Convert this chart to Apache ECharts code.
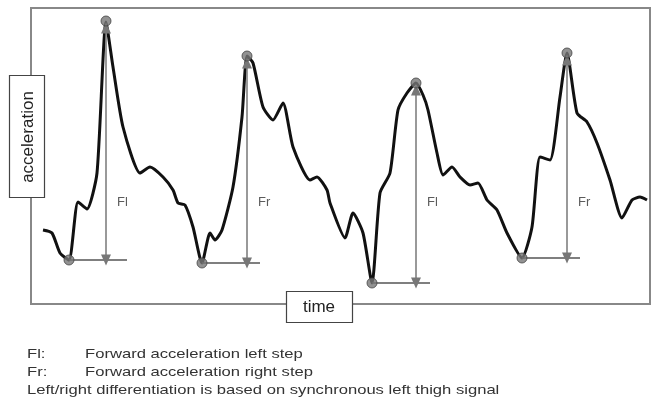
<!DOCTYPE html>
<html>
<head>
<meta charset="utf-8">
<script src="https://cdn.jsdelivr.net/npm/echarts@6/dist/echarts.min.js"></script>
<style>
html,body{margin:0;padding:0;background:#fff;}
#chart{width:652px;height:403px;}
</style>
</head>
<body>
<div id="chart"></div>
<script>
// acceleration signal (arbitrary units) over time (arbitrary units)
const time = [12,21,29,38,47,56,66,75,82,92,109,119,132,142,147,154,162,171,179,184,191,202,211,216,222,232,242,252,262,279,286,296,299,314,322,332,341,349,359,367,376,385,392,397,406,412,421,429,439,447,456,466,476,491,501,509,519,529,536,546,556,566,579,591,601,609,616];
const acceleration = [74,71,51,44,102,95,131,282,237,177,131,137,127,114,101,99,77,41,71,64,74,117,187,248,241,197,184,201,157,124,127,114,101,66,91,71,21,111,131,194,211,221,209,194,151,129,137,127,119,121,104,94,71,46,77,147,144,207,251,191,182,161,124,86,104,107,104];

// step annotations
const steps = ['Fl','Fr','Fl','Fr'];
const peakTime = [75,216,385,536];
const peakAcc = [283,248,221,251];
const troughTime = [38,171,341,491];
const troughAcc = [44,41,21,46];
const baseEnd = [96,229,399,549];

const xAxisLabel = 'time';
const yAxisLabel = 'acceleration';
const notes = [
  ['Fl:', 'Forward acceleration left step'],
  ['Fr:', 'Forward acceleration right step'],
  ['Left/right differentiation is based on synchronous left thigh signal', '']
];

const chart = echarts.init(document.getElementById('chart'), null, {renderer:'canvas'});

const arrowGap = 7;
const arrowLines = [];
const baseLines = [];
steps.forEach((s, i) => {
  arrowLines.push([{coord:[peakTime[i], peakAcc[i] - arrowGap]},{coord:[peakTime[i], troughAcc[i]]}]);
  baseLines.push([{coord:[troughTime[i], troughAcc[i]]},{coord:[baseEnd[i], troughAcc[i]]}]);
});

const markers = [];
steps.forEach((s, i) => {
  markers.push([troughTime[i], troughAcc[i]]);
  markers.push([peakTime[i], peakAcc[i]]);
});

const labelPts = steps.map((s, i) => ({value:[peakTime[i] + 11, 102], name:s}));

const txtColor = '#333';
const noteFont = '13.5px "Liberation Sans", Arial, sans-serif';
const noteScale = 1.23;
const graphic = [
  {type:'rect', shape:{x:9.5, y:75.5, width:35, height:122}, style:{fill:'#fff', stroke:'#444', lineWidth:1.2}, z:100},
  {type:'text', x:28, y:137, rotation:Math.PI/2, style:{text:yAxisLabel, font:'17px "Liberation Sans", Arial, sans-serif', fill:'#222', align:'center', verticalAlign:'middle'}, z:101},
  {type:'rect', shape:{x:286.5, y:291.5, width:66, height:31}, style:{fill:'#fff', stroke:'#444', lineWidth:1.2}, z:100},
  {type:'text', x:319, y:307, style:{text:xAxisLabel, font:'17px "Liberation Sans", Arial, sans-serif', fill:'#222', align:'center', verticalAlign:'middle'}, z:101}
];
const noteY = [354, 372, 390];
notes.forEach((n, i) => {
  graphic.push({type:'text', x:27, y:noteY[i], scaleX:noteScale, style:{text:n[0], font:noteFont, fill:txtColor, verticalAlign:'middle'}});
  if (n[1]) graphic.push({type:'text', x:85, y:noteY[i], scaleX:noteScale, style:{text:n[1], font:noteFont, fill:txtColor, verticalAlign:'middle'}});
});

chart.setOption({
  animation:false,
  backgroundColor:'#fff',
  grid:{left:31, top:8, width:619, height:296, show:true, borderColor:'#888', borderWidth:2, backgroundColor:'transparent'},
  xAxis:{type:'value', min:0, max:619, show:false},
  yAxis:{type:'value', min:0, max:296, show:false},
  graphic:graphic,
  series:[
    {
      type:'line', data:time.map((t,i)=>[t, acceleration[i]]), symbol:'none', smooth:0.2,
      lineStyle:{color:'#111', width:3}, z:3,
      markLine:{
        silent:true, symbol:['none','none'], label:{show:false},
        lineStyle:{color:'#555', width:1.5, type:'solid'},
        data:baseLines
      }
    },
    {
      type:'line', data:[], z:2,
      markLine:{
        silent:true, symbol:['triangle','triangle'], symbolSize:[10,11], label:{show:false},
        lineStyle:{color:'#777', width:1.5, type:'solid'},
        itemStyle:{color:'#777'},
        data:arrowLines
      }
    },
    {
      type:'scatter', data:markers, symbol:'circle', symbolSize:10, z:5,
      itemStyle:{color:'#777', borderColor:'#444', borderWidth:1}
    },
    {
      type:'scatter', data:labelPts, symbolSize:0, z:5,
      label:{show:true, position:'right', distance:0, formatter:p=>p.name, color:'#333', fontSize:13, fontFamily:'"Liberation Sans", Arial, sans-serif'}
    }
  ]
});
</script>
</body>
</html>
